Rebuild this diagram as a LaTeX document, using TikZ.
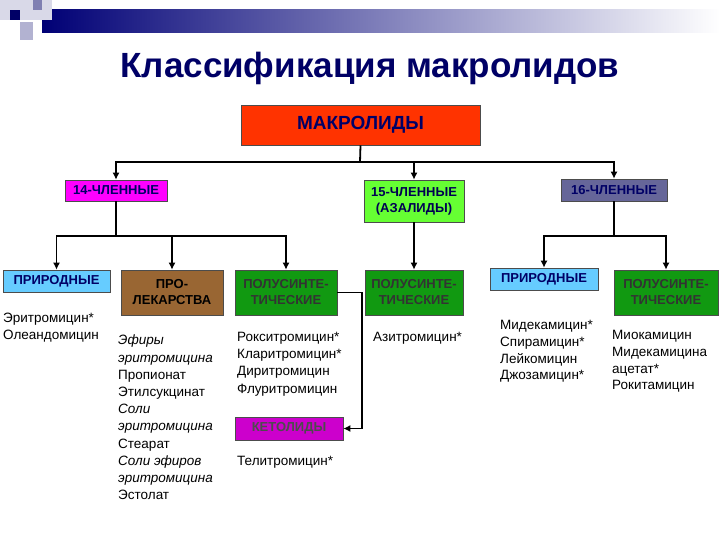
\documentclass[tikz,border=0pt]{standalone}
\usepackage{fontspec}
\setmainfont{Liberation Sans}
\usetikzlibrary{arrows.meta}
\definecolor{navy}{HTML}{000066}
\definecolor{redor}{HTML}{FF3300}
\definecolor{mag}{HTML}{FF00FF}
\definecolor{lgreen}{HTML}{66FF33}
\definecolor{slate}{HTML}{666699}
\definecolor{lblue}{HTML}{66CCFF}
\definecolor{brownb}{HTML}{996633}
\definecolor{dgreen}{HTML}{119911}
\definecolor{purp}{HTML}{CC00CC}
\tikzset{
 box/.style={draw=black!70,line width=0.6pt,inner sep=1pt,align=center,font=\bfseries\fontsize{13}{16}\selectfont},
 conn/.style={line width=1.8pt,-{Latex[length=7pt,width=7pt]}},
 plain/.style={line width=1.8pt},
 lst/.style={anchor=north west,align=left,inner sep=0pt,font=\fontsize{13.5}{17.2}\selectfont}
}
\begin{document}
\begin{tikzpicture}[x=1pt,y=-1pt]
\useasboundingbox (0,0) rectangle (720,540);
\fill[white] (0,0) rectangle (720,540);
% decoration
\shade[left color=navy!90!blue,right color=white] (42,10) rectangle (720,33);
\fill[navy!15] (0,0) rectangle (52,20);
\fill[navy!30] (20,22) rectangle (33,40);
\fill[navy!50] (33,0) rectangle (42,10);
\fill[navy] (10,10) rectangle (20,20);
\node[font=\bfseries\fontsize{35}{40}\selectfont,text=navy] (title) at (370,68) {Классификация макролидов};
% boxes
\node[box,fill=redor,text=navy,minimum width=239,minimum height=40,font=\bfseries\fontsize{19}{22}\selectfont] (mak) at (360.5,125) {МАКРОЛИДЫ};
\node[box,fill=mag,text=navy,minimum width=102,minimum height=21] (m14) at (116,190.5) {14-ЧЛЕННЫЕ};
\node[box,fill=lgreen,text=navy!80!black,minimum width=100,minimum height=42] (m15) at (414,201) {15-ЧЛЕННЫЕ\\(АЗАЛИДЫ)};
\node[box,fill=slate,text=navy,minimum width=106,minimum height=22] (m16) at (614,190) {16-ЧЛЕННЫЕ};
\node[box,fill=lblue,text=navy,minimum width=107,minimum height=22] (p1) at (56.5,281) {ПРИРОДНЫЕ};
\node[box,fill=brownb,text=black,minimum width=102,minimum height=45] (pro) at (172,292.5) {ПРО-\\ЛЕКАРСТВА};
\node[box,fill=dgreen,text=black!80,minimum width=102,minimum height=45] (ps1) at (286,292.5) {ПОЛУСИНТЕ-\\ТИЧЕСКИЕ};
\node[box,fill=dgreen,text=black!80,minimum width=98,minimum height=45] (ps2) at (414,292.5) {ПОЛУСИНТЕ-\\ТИЧЕСКИЕ};
\node[box,fill=lblue,text=navy,minimum width=108,minimum height=22] (p3) at (544,279) {ПРИРОДНЫЕ};
\node[box,fill=dgreen,text=black!80,minimum width=104,minimum height=45] (ps3) at (666,292.5) {ПОЛУСИНТЕ-\\ТИЧЕСКИЕ};
\node[box,fill=purp,text=black!70,minimum width=108,minimum height=23] (ket) at (289,428.5) {КЕТОЛИДЫ};
% connectors
\coordinate (j0) at (360,162);
\draw[plain] (mak.south) -- (j0);
\draw[conn] (j0) -| (m14.north);
\draw[conn] (j0) -| (m15.north);
\draw[conn] (j0) -| (m16.north);
\coordinate (j1) at (116,236);
\draw[plain] (m14.south) -- (j1);
\draw[conn] (j1) -| (p1.north);
\draw[conn] (j1) -| (pro.north);
\draw[conn] (j1) -| (ps1.north);
\draw[conn] (m15.south) -- (ps2.north);
\coordinate (j3) at (614,236);
\draw[plain] (m16.south) -- (j3);
\draw[conn] (j3) -| (p3.north);
\draw[conn] (j3) -| (ps3.north);
\coordinate (k1) at (362,292.5);
\draw[conn] (ps1.east) -- (k1) |- (ket.east);
% lists
\node[lst] (l1) at (3,313) {Эритромицин*\\Олеандомицин};
\node[lst] (l2) at (118,335) {\textit{Эфиры}\\\textit{эритромицина}\\Пропионат\\Этилсукцинат\\\textit{Соли}\\\textit{эритромицина}\\Стеарат\\\textit{Соли эфиров}\\\textit{эритромицина}\\Эстолат};
\node[lst] (l3) at (237,332) {Рокситромицин*\\Кларитромицин*\\Диритромицин\\Флуритромицин};
\node[lst] (l4) at (237,456) {Телитромицин*};
\node[lst] (l5) at (373,332) {Азитромицин*};
\node[lst,font=\fontsize{13.5}{16.8}\selectfont] (l6) at (500,320) {Мидекамицин*\\Спирамицин*\\Лейкомицин\\Джозамицин*};
\node[lst,font=\fontsize{13.5}{16.8}\selectfont] (l7) at (612,330) {Миокамицин\\Мидекамицина\\ацетат*\\Рокитамицин};
\end{tikzpicture}
\end{document}
